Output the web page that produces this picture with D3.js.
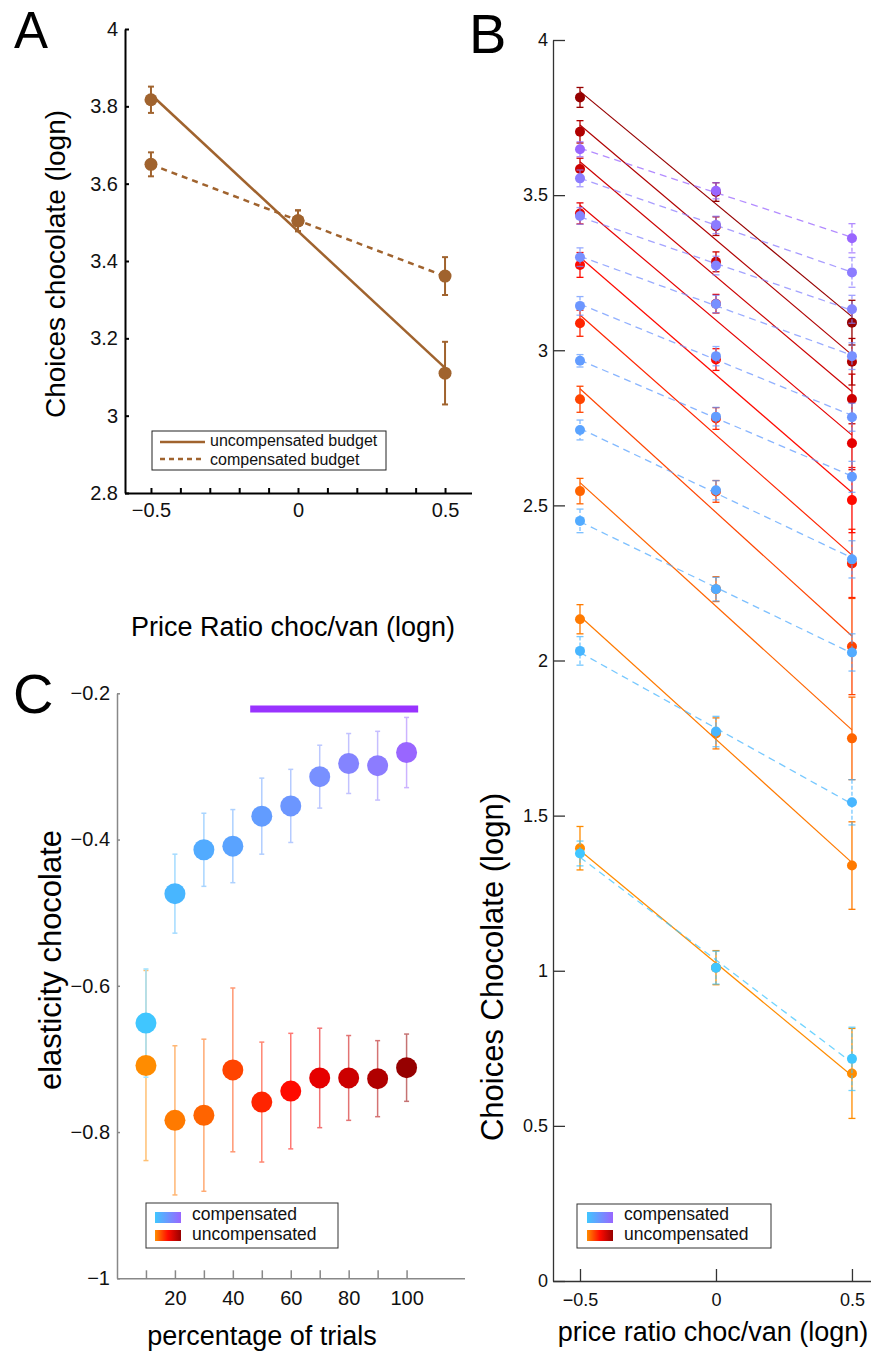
<!DOCTYPE html>
<html><head><meta charset="utf-8">
<script src="https://cdn.jsdelivr.net/npm/d3@7"></script>
<style>
body{margin:0;background:#fff;}
svg{display:block;font-family:"Liberation Sans",Arial,Helvetica,sans-serif;}
</style></head><body>
<svg id="fig" width="871" height="1352"></svg>
<script>
// ---------------- DATA ----------------
// Panel A
const aX = [-0.5, 0, 0.5];
const aUncomp = [3.817, 3.504, 3.110];
const aUncompErr = [0.034, 0.027, 0.081];
const aComp = [3.650, 3.504, 3.361];
const aCompErr = [0.031, 0.027, 0.049];
const aTicksX = [-0.5, -0.4, -0.3, -0.2, -0.1, 0, 0.1, 0.2, 0.3, 0.4, 0.5];
const aLabelsX = [-0.5, 0, 0.5];
const aTicksY = [2.8, 3, 3.2, 3.4, 3.6, 3.8, 4];
const aLegend = ["uncompensated budget", "compensated budget"];

// Panel B (percentage of trials 10..100; values at price ratio -0.5, 0, 0.5)
const pct = [10, 20, 30, 40, 50, 60, 70, 80, 90, 100];
const bX = [-0.5, 0, 0.5];
const bUncompLo  = [1.395, 2.133, 2.546, 2.842, 3.087, 3.275, 3.441, 3.584, 3.704, 3.815];
const bUncompMid = [1.010, 1.765, 2.230, 2.545, 2.780, 2.970, 3.150, 3.285, 3.400, 3.510];
const bUncompHi  = [0.669, 1.339, 1.749, 2.045, 2.313, 2.517, 2.700, 2.843, 2.963, 3.089];
const bUncompErrLo  = [0.070, 0.047, 0.041, 0.042, 0.042, 0.040, 0.034, 0.035, 0.036, 0.032];
const bUncompErrMid = [0.055, 0.050, 0.040, 0.035, 0.035, 0.035, 0.030, 0.032, 0.030, 0.030];
const bUncompErrHi  = [0.145, 0.141, 0.133, 0.155, 0.110, 0.105, 0.085, 0.080, 0.075, 0.072];
const bCompLo  = [1.378, 2.031, 2.450, 2.743, 2.966, 3.143, 3.300, 3.433, 3.554, 3.648];
const bCompMid = [1.010, 1.771, 2.230, 2.549, 2.786, 2.981, 3.149, 3.273, 3.404, 3.514];
const bCompHi  = [0.716, 1.543, 2.026, 2.326, 2.592, 2.784, 2.981, 3.132, 3.251, 3.361];
const bCompErrLo  = [0.040, 0.046, 0.038, 0.032, 0.020, 0.030, 0.030, 0.027, 0.027, 0.024];
const bCompErrMid = [0.053, 0.049, 0.038, 0.031, 0.030, 0.031, 0.028, 0.030, 0.028, 0.026];
const bCompErrHi  = [0.102, 0.073, 0.060, 0.060, 0.050, 0.045, 0.043, 0.045, 0.048, 0.047];
const bTicksY = [0, 0.5, 1, 1.5, 2, 2.5, 3, 3.5, 4];
const bTicksX = [-0.5, 0, 0.5];

// Panel C (elasticity by percentage of trials)
const cComp = [-0.651, -0.474, -0.414, -0.409, -0.368, -0.354, -0.314, -0.296, -0.299, -0.281];
const cCompErr = [0.074, 0.054, 0.050, 0.050, 0.052, 0.050, 0.043, 0.041, 0.047, 0.048];
const cUncomp = [-0.709, -0.784, -0.777, -0.715, -0.759, -0.744, -0.726, -0.726, -0.727, -0.712];
const cUncompErr = [0.130, 0.102, 0.104, 0.112, 0.082, 0.079, 0.068, 0.058, 0.052, 0.046];
const cSigRange = [46, 104];
const cSigLevel = -0.2215;
const cTicksY = [-1, -0.8, -0.6, -0.4, -0.2];
const cTicksX = [10, 20, 30, 40, 50, 60, 70, 80, 90, 100];
const cLabelsX = [20, 40, 60, 80, 100];
const legendLabels = ["compensated", "uncompensated"];

// ---------------- STYLES ----------------
const brown = "#A0632E";
const compColors = ["#40C6FF","#48B6FF","#52ABFF","#5AA3FF","#629CFF","#6C96FF","#7890FF","#8484FF","#8C7CFF","#9966FF"];
const uncompColors = ["#FF8C00","#FF7A00","#FF6400","#FF4400","#FF2400","#FF0A00","#E60000","#CC0000","#B00000","#960000"];
const sigColor = "#9933FF";
const lighten = (c, t) => d3.interpolateRgb(c, "#ffffff")(t);

const svg = d3.select("#fig");
const fmt = d => (Math.round(d * 100) / 100).toString().replace("-", "\u2212");
const near = (arr, d) => arr.some(v => Math.abs(v - d) < 1e-9);

function fitLine(xs, ys) {
  const mx = d3.mean(xs), my = d3.mean(ys);
  const b = d3.sum(xs.map((x, i) => (x - mx) * (ys[i] - my))) / d3.sum(xs.map(x => (x - mx) ** 2));
  return x => my + b * (x - mx);
}

function styleAxis(g, color, width, fontSize) {
  g.select(".domain").attr("stroke", color).attr("stroke-width", width);
  g.selectAll(".tick line").attr("stroke", color).attr("stroke-width", width);
  g.selectAll(".tick text").attr("fill", "#111").attr("font-size", fontSize).attr("font-family", "Liberation Sans, Arial, sans-serif");
}

function errBar(g, x, y0, y1, color, capW, width, opacity, dash) {
  const s = g.append("g").attr("stroke", color).attr("stroke-width", width).attr("opacity", opacity).attr("fill", "none");
  const d = s.append("line").attr("x1", x).attr("x2", x).attr("y1", y0).attr("y2", y1);
  if (dash) d.attr("stroke-dasharray", dash);
  s.append("line").attr("x1", x - capW / 2).attr("x2", x + capW / 2).attr("y1", y0).attr("y2", y0);
  s.append("line").attr("x1", x - capW / 2).attr("x2", x + capW / 2).attr("y1", y1).attr("y2", y1);
}

// ---------------- PANEL A ----------------
const xA = d3.scaleLinear().domain([-0.59, 0.59]).range([124.5, 471.5]);
const yA = d3.scaleLinear().domain([2.8, 4]).range([493, 29]);
const gA = svg.append("g");

gA.append("g").attr("transform", "translate(0,493)")
  .call(d3.axisBottom(xA).tickValues(aTicksX).tickSize(-5).tickSizeOuter(0).tickPadding(10)
    .tickFormat(d => near(aLabelsX, d) ? fmt(d) : ""))
  .call(g => styleAxis(g, "#000", 2, 20));
gA.append("g").attr("transform", "translate(125,0)")
  .call(d3.axisLeft(yA).tickValues(aTicksY).tickSize(-4).tickSizeOuter(0).tickPadding(7).tickFormat(fmt))
  .call(g => styleAxis(g, "#000", 2, 20));

const fitAU = fitLine(aX, aUncomp), fitAC = fitLine(aX, aComp);
const lineA = d3.line().x(d => xA(d[0])).y(d => yA(d[1]));
gA.append("path").attr("d", lineA([[-0.5, fitAU(-0.5)], [0.5, fitAU(0.5)]]))
  .attr("stroke", brown).attr("stroke-width", 2.5).attr("fill", "none");
gA.append("path").attr("d", lineA([[-0.5, fitAC(-0.5)], [0.5, fitAC(0.5)]]))
  .attr("stroke", brown).attr("stroke-width", 2.5).attr("stroke-dasharray", "6,5").attr("fill", "none");
[[aUncomp, aUncompErr], [aComp, aCompErr]].forEach(([vals, errs]) => {
  vals.forEach((v, i) => {
    errBar(gA, xA(aX[i]), yA(v + errs[i]), yA(v - errs[i]), brown, 6, 2, 1, null);
    gA.append("circle").attr("cx", xA(aX[i])).attr("cy", yA(v)).attr("r", 6.5).attr("fill", brown);
  });
});
// legend A
gA.append("rect").attr("x", 152).attr("y", 431).attr("width", 234).attr("height", 39)
  .attr("fill", "#fff").attr("stroke", "#222").attr("stroke-width", 1);
gA.append("line").attr("x1", 160).attr("x2", 205).attr("y1", 442).attr("y2", 442).attr("stroke", brown).attr("stroke-width", 2.5);
gA.append("line").attr("x1", 160).attr("x2", 205).attr("y1", 459).attr("y2", 459).attr("stroke", brown).attr("stroke-width", 2.5).attr("stroke-dasharray", "5,4");
aLegend.forEach((t, i) => gA.append("text").attr("x", 210).attr("y", 446 + i * 18.5).attr("font-size", 16).attr("fill", "#111").text(t));
gA.append("text").attr("x", 293).attr("y", 636).attr("text-anchor", "middle").attr("font-size", 27).attr("fill", "#000").text("Price Ratio choc/van (logn)");
gA.append("text").attr("transform", "translate(65,264) rotate(-90)").attr("text-anchor", "middle").attr("font-size", 28).attr("fill", "#000").text("Choices chocolate (logn)");
svg.append("text").attr("x", 14).attr("y", 48).attr("font-size", 51).attr("fill", "#000").text("A");

// ---------------- PANEL B ----------------
const xB = d3.scaleLinear().domain([-0.6, 0.57]).range([552.8, 871]);
const yB = d3.scaleLinear().domain([0, 4]).range([1281, 40]);
const gB = svg.append("g");
gB.append("g").attr("transform", "translate(0,1281)")
  .call(d3.axisBottom(xB).tickValues(bTicksX).tickSize(-12).tickSizeOuter(0).tickPadding(12).tickFormat(fmt))
  .call(g => styleAxis(g, "#333", 1.3, 18));
gB.append("g").attr("transform", "translate(553,0)")
  .call(d3.axisLeft(yB).tickValues(bTicksY).tickSize(-12).tickSizeOuter(0).tickPadding(5).tickFormat(fmt))
  .call(g => styleAxis(g, "#333", 1.3, 18));
const lineB = d3.line().x(d => xB(d[0])).y(d => yB(d[1]));

function drawB(lo, mid, hi, elo, emid, ehi, colors, dashed) {
  pct.forEach((p, i) => {
    const ys = [lo[i], mid[i], hi[i]];
    const es = [elo[i], emid[i], ehi[i]];
    const f = fitLine(bX, ys);
    const path = gB.append("path").attr("d", lineB([[-0.5, f(-0.5)], [0.5, f(0.5)]]))
      .attr("stroke", colors[i]).attr("stroke-width", dashed ? 1.3 : 1.2).attr("fill", "none");
    if (dashed) path.attr("stroke-dasharray", "7,5").attr("opacity", 0.75);
    ys.forEach((v, j) => errBar(gB, xB(bX[j]), yB(v + es[j]), yB(v - es[j]), colors[i], 7, 1.3, dashed ? 0.75 : 1, dashed ? "4,2" : null));
  });
  pct.forEach((p, i) => {
    [lo[i], mid[i], hi[i]].forEach((v, j) =>
      gB.append("circle").attr("cx", xB(bX[j])).attr("cy", yB(v)).attr("r", 5).attr("fill", colors[i]));
  });
}
drawB(bUncompLo, bUncompMid, bUncompHi, bUncompErrLo, bUncompErrMid, bUncompErrHi, uncompColors, false);
drawB(bCompLo, bCompMid, bCompHi, bCompErrLo, bCompErrMid, bCompErrHi, compColors, true);

// gradients
const defs = svg.append("defs");
const gc = defs.append("linearGradient").attr("id", "gComp");
gc.append("stop").attr("offset", "0%").attr("stop-color", compColors[0]);
gc.append("stop").attr("offset", "100%").attr("stop-color", compColors[9]);
const gu = defs.append("linearGradient").attr("id", "gUncomp");
gu.append("stop").attr("offset", "0%").attr("stop-color", uncompColors[0]);
gu.append("stop").attr("offset", "50%").attr("stop-color", uncompColors[5]);
gu.append("stop").attr("offset", "100%").attr("stop-color", uncompColors[9]);

function gradLegend(g, x, y, w, h, sx, sy, tx) {
  g.append("rect").attr("x", x).attr("y", y).attr("width", w).attr("height", h)
    .attr("fill", "#fff").attr("stroke", "#333").attr("stroke-width", 1);
  ["gComp", "gUncomp"].forEach((id, i) => {
    g.append("rect").attr("x", sx).attr("y", sy + i * 18).attr("width", 26).attr("height", 11).attr("fill", `url(#${id})`);
    g.append("text").attr("x", tx).attr("y", sy + 8 + i * 20).attr("font-size", 17.5).attr("fill", "#111").text(legendLabels[i]);
  });
}
gradLegend(gB, 577, 1204, 194, 44, 587, 1212, 624);
gB.append("text").attr("x", 713).attr("y", 1341).attr("text-anchor", "middle").attr("font-size", 27).attr("fill", "#000").text("price ratio choc/van (logn)");
gB.append("text").attr("transform", "translate(503,967) rotate(-90)").attr("text-anchor", "middle").attr("font-size", 31).attr("fill", "#000").text("Choices Chocolate (logn)");
svg.append("text").attr("x", 469).attr("y", 53).attr("font-size", 56).attr("fill", "#000").text("B");

// ---------------- PANEL C ----------------
const xC = d3.scaleLinear().domain([0, 120]).range([117, 464.5]);
const yC = d3.scaleLinear().domain([-1, -0.2]).range([1278.3, 693.3]);
const gC = svg.append("g");
gC.append("g").attr("transform", "translate(0,1278.3)")
  .call(d3.axisBottom(xC).tickValues(cTicksX).tickSize(-8).tickSizeOuter(0).tickPadding(13)
    .tickFormat(d => near(cLabelsX, d) ? fmt(d) : ""))
  .call(g => styleAxis(g, "#888", 1.5, 20));
gC.append("g").attr("transform", "translate(117,0)")
  .call(d3.axisLeft(yC).tickValues(cTicksY).tickSize(-3).tickSizeOuter(0).tickPadding(7).tickFormat(fmt))
  .call(g => styleAxis(g, "#888", 1.5, 20));
gC.append("line").attr("x1", xC(cSigRange[0])).attr("x2", xC(cSigRange[1]))
  .attr("y1", yC(cSigLevel)).attr("y2", yC(cSigLevel)).attr("stroke", sigColor).attr("stroke-width", 7);
pct.forEach((p, i) => errBar(gC, xC(p), yC(cUncomp[i] + cUncompErr[i]), yC(cUncomp[i] - cUncompErr[i]), lighten(uncompColors[i], 0.45), 5, 1.5, 1, null));
pct.forEach((p, i) => errBar(gC, xC(p), yC(cComp[i] + cCompErr[i]), yC(cComp[i] - cCompErr[i]), lighten(compColors[i], 0.5), 5, 1.5, 1, null));
pct.forEach((p, i) => gC.append("circle").attr("cx", xC(p)).attr("cy", yC(cUncomp[i])).attr("r", 10.5).attr("fill", uncompColors[i]));
pct.forEach((p, i) => gC.append("circle").attr("cx", xC(p)).attr("cy", yC(cComp[i])).attr("r", 10.5).attr("fill", compColors[i]));
gradLegend(gC, 146, 1203, 192, 45, 155, 1212, 192);
gC.append("text").attr("x", 262).attr("y", 1345).attr("text-anchor", "middle").attr("font-size", 27).attr("fill", "#000").text("percentage of trials");
gC.append("text").attr("transform", "translate(61,960) rotate(-90)").attr("text-anchor", "middle").attr("font-size", 31).attr("fill", "#000").text("elasticity chocolate");
svg.append("text").attr("x", 13).attr("y", 713).attr("font-size", 56).attr("fill", "#000").text("C");
</script>
</body></html>
